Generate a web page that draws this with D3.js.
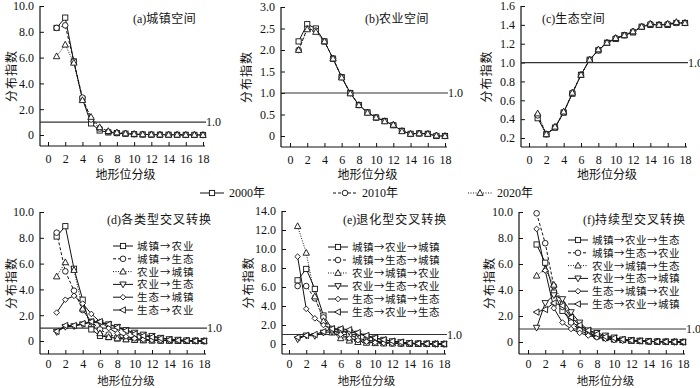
<!DOCTYPE html>
<html>
<head>
<meta charset="utf-8">
<script src="https://cdn.jsdelivr.net/npm/d3@7"></script>
<style>
  body { margin: 0; background: #fff; }
  svg text { font-family: "Liberation Serif", "Noto Sans CJK SC", serif; fill: #111; }
  .cn { font-family: "Noto Sans CJK SC", "Liberation Serif", sans-serif; }
</style>
</head>
<body>
<div id="chart"></div>
<script>
// ---- donnees ----
var levels = [1,2,3,4,5,6,7,8,9,10,11,12,13,14,15,16,17,18];
var years = ["2000年","2010年","2020年"];

// (a) 城镇空间
var urban2000 = [8.3,9.1,5.7,2.8,0.9,0.35,0.2,0.15,0.1,0.06,0.04,0.03,0.02,0.02,0.01,0.01,0.01,0.0];
var urban2010 = [8.3,8.5,5.7,2.9,1.2,0.5,0.25,0.15,0.1,0.07,0.05,0.03,0.02,0.02,0.02,0.01,0.01,0.0];
var urban2020 = [6.1,7.0,5.6,2.7,1.4,0.6,0.3,0.2,0.12,0.08,0.05,0.04,0.03,0.02,0.02,0.01,0.01,0.0];
// (b) 农业空间
var agri2000 = [2.2,2.6,2.5,2.2,1.8,1.37,1.0,0.72,0.55,0.43,0.35,0.25,0.12,0.05,0.06,0.05,0.0,0.0];
var agri2010 = [2.0,2.5,2.45,2.2,1.8,1.37,1.0,0.72,0.55,0.43,0.35,0.26,0.12,0.05,0.06,0.05,0.01,0.0];
var agri2020 = [2.0,2.48,2.42,2.2,1.8,1.36,0.99,0.72,0.54,0.43,0.34,0.26,0.11,0.05,0.06,0.05,0.01,0.0];
// (c) 生态空间
var eco2000 = [0.41,0.24,0.31,0.47,0.67,0.87,1.03,1.13,1.21,1.25,1.29,1.32,1.38,1.40,1.40,1.40,1.42,1.42];
var eco2010 = [0.44,0.24,0.31,0.47,0.68,0.87,1.03,1.13,1.21,1.26,1.29,1.33,1.38,1.41,1.40,1.41,1.42,1.42];
var eco2020 = [0.46,0.24,0.32,0.48,0.68,0.87,1.03,1.14,1.21,1.26,1.29,1.33,1.38,1.41,1.40,1.41,1.43,1.42];

// (d) 各类型交叉转换
var crossLabels = ["城镇→农业","城镇→生态","农业→城镇","农业→生态","生态→城镇","生态→农业"];
var crossUA = [8.1,8.9,5.6,3.2,0.9,0.4,0.3,0.2,0.15,0.1,0.07,0.05,0.04,0.03,0.02,0.01,0.01,0.0];
var crossUE = [8.4,5.4,3.9,2.4,1.5,0.9,0.5,0.3,0.2,0.15,0.1,0.08,0.05,0.03,0.02,0.01,0.01,0.0];
var crossAU = [5.0,6.1,5.5,2.5,1.3,0.6,0.3,0.2,0.12,0.08,0.05,0.04,0.03,0.02,0.01,0.01,0.0,0.0];
var crossAE = [0.7,1.1,1.15,1.3,1.45,1.4,1.3,1.1,0.85,0.65,0.5,0.4,0.25,0.15,0.1,0.05,0.02,0.0];
var crossEU = [2.2,3.2,3.5,2.9,2.1,1.5,1.0,0.6,0.35,0.2,0.12,0.08,0.05,0.03,0.02,0.01,0.01,0.0];
var crossEA = [0.75,1.2,1.2,1.35,1.5,1.5,1.3,1.05,0.8,0.55,0.4,0.3,0.2,0.1,0.06,0.03,0.01,0.0];

// (e) 退化型交叉转换
var degradeLabels = ["城镇→农业→城镇","城镇→生态→城镇","农业→城镇→农业","农业→生态→农业","生态→城镇→生态","生态→农业→生态"];
var degUAU = [6.7,7.9,5.8,3.0,1.6,1.5,1.0,0.6,0.4,0.3,0.2,0.15,0.1,0.05,0.03,0.02,0.01,0.0];
var degUEU = [6.1,6.1,4.8,2.8,1.3,0.8,0.5,0.3,0.2,0.15,0.1,0.07,0.05,0.03,0.02,0.01,0.01,0.0];
var degAUA = [12.4,9.6,5.0,2.4,1.2,0.6,0.35,0.2,0.12,0.08,0.05,0.04,0.03,0.02,0.01,0.01,0.0,0.0];
var degAEA = [0.5,0.9,0.85,1.2,1.3,1.4,1.3,1.1,0.8,0.6,0.45,0.3,0.2,0.1,0.05,0.03,0.01,0.0];
var degEUE = [9.2,3.7,2.7,2.0,1.5,1.0,0.6,0.4,0.25,0.15,0.1,0.07,0.05,0.03,0.02,0.01,0.01,0.0];
var degEAE = [0.7,0.9,1.0,1.3,1.6,1.6,1.5,1.2,0.9,0.65,0.45,0.3,0.2,0.1,0.05,0.03,0.01,0.0];

// (f) 持续型交叉转换
var sustainLabels = ["城镇→农业→生态","城镇→生态→农业","农业→城镇→生态","农业→生态→城镇","生态→城镇→农业","生态→农业→城镇"];
var susUAE = [7.5,6.1,3.8,2.4,1.6,1.1,0.7,0.45,0.3,0.2,0.15,0.1,0.08,0.05,0.03,0.02,0.01,0.0];
var susUEA = [9.9,7.6,4.3,2.7,1.5,0.9,0.6,0.4,0.3,0.2,0.15,0.1,0.08,0.05,0.03,0.02,0.01,0.0];
var susAUE = [5.1,5.6,4.4,3.0,2.0,1.3,0.8,0.5,0.35,0.25,0.15,0.1,0.07,0.05,0.03,0.02,0.01,0.0];
var susAEU = [1.1,3.0,3.6,3.3,2.3,1.5,0.9,0.7,0.5,0.35,0.2,0.15,0.1,0.06,0.03,0.02,0.01,0.0];
var susEUA = [8.7,5.5,2.6,1.5,1.0,0.7,0.5,0.35,0.25,0.15,0.1,0.07,0.05,0.03,0.02,0.01,0.01,0.0];
var susEAU = [2.3,2.5,3.0,2.8,1.9,1.3,0.9,0.6,0.4,0.3,0.2,0.12,0.08,0.05,0.03,0.02,0.01,0.0];

var xTicks = [0,2,4,6,8,10,12,14,16,18];

// ---- styles des series ----
var styles = [
  {sym: "square",   dash: null},
  {sym: "circle",   dash: "3,2"},
  {sym: "triUp",    dash: "1,1.5"},
  {sym: "triDown",  dash: null},
  {sym: "diamond",  dash: null},
  {sym: "triLeft",  dash: null}
];

var svg = d3.select("#chart").append("svg").attr("width",700).attr("height",388);

// dessine un marqueur centre en (x,y)
function draw_marker(g, sym, x, y){
  var p;
  if(sym == "square"){
    p = g.append("rect").attr("x",x-2.6).attr("y",y-2.6).attr("width",5.2).attr("height",5.2);
  }
  else if(sym == "circle"){
    p = g.append("circle").attr("cx",x).attr("cy",y).attr("r",2.8);
  }
  else {
    var pts;
    if(sym == "triUp")   pts = [[0,-3.4],[3.2,2.4],[-3.2,2.4]];
    if(sym == "triDown") pts = [[0,3.4],[3.2,-2.4],[-3.2,-2.4]];
    if(sym == "triLeft") pts = [[-3.4,0],[2.4,-3.2],[2.4,3.2]];
    if(sym == "diamond") pts = [[0,-2.8],[2.8,0],[0,2.8],[-2.8,0]];
    p = g.append("polygon").attr("points", pts.map(function(d){ return (x+d[0])+","+(y+d[1]); }).join(" "));
  }
  p.attr("fill","#fff").attr("stroke","#111").attr("stroke-width",0.9);
}

/*
 * dessine un panneau complet
 */
function draw_panel(cfg){
  var g = svg.append("g");
  var x = d3.scaleLinear().domain([0,18]).range([cfg.x0, cfg.x18]);
  var y = d3.scaleLinear().domain([cfg.yLo, cfg.yHi]).range([cfg.yLoPx, cfg.yHiPx]);
  var fmt = function(d){ return d == 0 ? "0" : d3.format(".1f")(d); };

  // axes
  var yAxis = d3.axisLeft(y).tickValues(cfg.yTicks).tickFormat(fmt).tickSize(-4).tickPadding(6);
  var gy = g.append("g").attr("transform","translate("+cfg.axisX+",0)").call(yAxis);
  gy.select(".domain").remove();
  g.append("line").attr("x1",cfg.axisX).attr("x2",cfg.axisX).attr("y1",cfg.yHiPx).attr("y2",cfg.axisY)
    .attr("stroke","#111").attr("stroke-width",1.2);

  var xAxis = d3.axisBottom(x).tickValues(xTicks).tickSize(-4).tickPadding(cfg.xPad);
  var gx = g.append("g").attr("transform","translate(0,"+cfg.axisY+")").call(xAxis);
  gx.select(".domain").remove();
  g.append("line").attr("x1",cfg.axisX).attr("x2",cfg.x18+2).attr("y1",cfg.axisY).attr("y2",cfg.axisY)
    .attr("stroke","#111").attr("stroke-width",1.2);

  g.selectAll(".tick line").attr("stroke","#111");
  g.selectAll(".tick text").attr("font-size",12).style("font-family","Liberation Serif");

  // ligne de reference 1.0
  g.append("line").attr("x1",cfg.axisX).attr("x2",cfg.x18+3).attr("y1",y(1)).attr("y2",y(1))
    .attr("stroke","#333").attr("stroke-width",1.2);
  g.append("text").attr("x",cfg.x18+3).attr("y",y(1)+4).attr("font-size",12).text("1.0");

  // titres
  g.append("text").attr("class","cn").attr("x",(cfg.x0+cfg.x18)/2).attr("y",cfg.xTitleY)
    .attr("text-anchor","middle").attr("font-size",cfg.xTitleSize).text("地形位分级");
  g.append("text").attr("class","cn")
    .attr("transform","translate("+cfg.yTitleX+","+((cfg.yHiPx+cfg.axisY)/2)+") rotate(-90)")
    .attr("text-anchor","middle").attr("font-size",12).style("letter-spacing","1px").text("分布指数");
  var t = g.append("text").attr("x",cfg.titleX).attr("y",cfg.titleY).attr("font-size",12);
  t.append("tspan").style("font-family","Liberation Serif").text(cfg.tag);
  t.append("tspan").attr("class","cn").style("letter-spacing",cfg.titleSpacing+"px").text(cfg.title);

  // series
  var line = d3.line().x(function(d){ return x(d[0]); }).y(function(d){ return y(d[1]); });
  cfg.series.forEach(function(vals, i){
    var st = styles[cfg.styleIdx[i]];
    var pts = levels.map(function(l, k){ return [l, vals[k]]; });
    g.append("path").attr("d", line(pts)).attr("fill","none").attr("stroke","#111")
      .attr("stroke-width",1).attr("stroke-dasharray", st.dash);
  });
  cfg.series.forEach(function(vals, i){
    var st = styles[cfg.styleIdx[i]];
    levels.forEach(function(l, k){ draw_marker(g, st.sym, x(l), y(vals[k])); });
  });

  // legende interne
  if(cfg.legend){
    cfg.legend.forEach(function(lab, i){
      var st = styles[i];
      var ly = cfg.legY + i*cfg.legStep;
      g.append("line").attr("x1",cfg.legX).attr("x2",cfg.legX+20).attr("y1",ly).attr("y2",ly)
        .attr("stroke","#111").attr("stroke-width",1).attr("stroke-dasharray",st.dash);
      draw_marker(g, st.sym, cfg.legX+10, ly);
      g.append("text").attr("class","cn").attr("x",cfg.legX+24).attr("y",ly+4)
        .attr("font-size",10.5).style("letter-spacing",cfg.legSpacing+"px").text(lab);
    });
  }
}

var panels = [
  {tag:"(a)", title:"城镇空间", series:[urban2000,urban2010,urban2020], styleIdx:[0,1,2],
   axisX:40, x0:48, x18:203, axisY:146, yLo:0, yHi:10, yLoPx:135, yHiPx:6, yTicks:[0,2,4,6,8,10],
   yTitleX:16, titleX:133, titleY:23, titleSpacing:0.5, xTitleY:179, xTitleSize:12, xPad:8},
  {tag:"(b)", title:"农业空间", series:[agri2000,agri2010,agri2020], styleIdx:[0,1,2],
   axisX:281, x0:290, x18:445, axisY:147, yLo:0, yHi:3, yLoPx:136, yHiPx:7, yTicks:[0,0.5,1,1.5,2,2.5,3],
   yTitleX:251, titleX:365, titleY:23, titleSpacing:0.5, xTitleY:179, xTitleSize:12, xPad:8},
  {tag:"(c)", title:"生态空间", series:[eco2000,eco2010,eco2020], styleIdx:[0,1,2],
   axisX:521, x0:529, x18:685, axisY:147, yLo:0.2, yHi:1.6, yLoPx:138, yHiPx:6, yTicks:[0.2,0.4,0.6,0.8,1,1.2,1.4,1.6],
   yTitleX:491, titleX:542, titleY:23, titleSpacing:0.5, xTitleY:179, xTitleSize:12, xPad:8},
  {tag:"(d)", title:"各类型交叉转换", series:[crossUA,crossUE,crossAU,crossAE,crossEU,crossEA], styleIdx:[0,1,2,3,4,5],
   axisX:40, x0:48, x18:204, axisY:354, yLo:0, yHi:10, yLoPx:341, yHiPx:212, yTicks:[0,2,4,6,8,10],
   yTitleX:16, titleX:107, titleY:224, titleSpacing:1, xTitleY:384.5, xTitleSize:11.5, xPad:5.5,
   legend:crossLabels, legX:113, legY:246, legStep:12.8, legSpacing:1},
  {tag:"(e)", title:"退化型交叉转换", series:[degUAU,degUEU,degAUA,degAEA,degEUE,degEAE], styleIdx:[0,1,2,3,4,5],
   axisX:282, x0:289, x18:444, axisY:354, yLo:0, yHi:14, yLoPx:344, yHiPx:211, yTicks:[0,2,4,6,8,10,12,14],
   yTitleX:253, titleX:343, titleY:224, titleSpacing:1, xTitleY:384.5, xTitleSize:11.5, xPad:5.5,
   legend:degradeLabels, legX:328, legY:247, legStep:13, legSpacing:0.5},
  {tag:"(f)", title:"持续型交叉转换", series:[susUAE,susUEA,susAUE,susAEU,susEUA,susEAU], styleIdx:[0,1,2,3,4,5],
   axisX:519, x0:528, x18:683, axisY:354, yLo:0, yHi:10, yLoPx:342, yHiPx:212, yTicks:[0,2,4,6,8,10],
   yTitleX:494, titleX:583, titleY:224, titleSpacing:1, xTitleY:384.5, xTitleSize:11.5, xPad:5.5,
   legend:sustainLabels, legX:568, legY:240, legStep:12.8, legSpacing:0.5}
];

panels.forEach(draw_panel);

// legende commune des annees
var legPos = [200, 333, 468];
years.forEach(function(yr, i){
  var st = styles[i];
  var lx = legPos[i], ly = 193;
  svg.append("line").attr("x1",lx).attr("x2",lx+24).attr("y1",ly).attr("y2",ly)
    .attr("stroke","#111").attr("stroke-width",1).attr("stroke-dasharray",st.dash);
  draw_marker(svg, st.sym, lx+12, ly);
  var t = svg.append("text").attr("x",lx+29).attr("y",ly+4).attr("font-size",12);
  t.append("tspan").text(yr.slice(0,4));
  t.append("tspan").attr("class","cn").text(yr.slice(4));
});
</script>
</body>
</html>
